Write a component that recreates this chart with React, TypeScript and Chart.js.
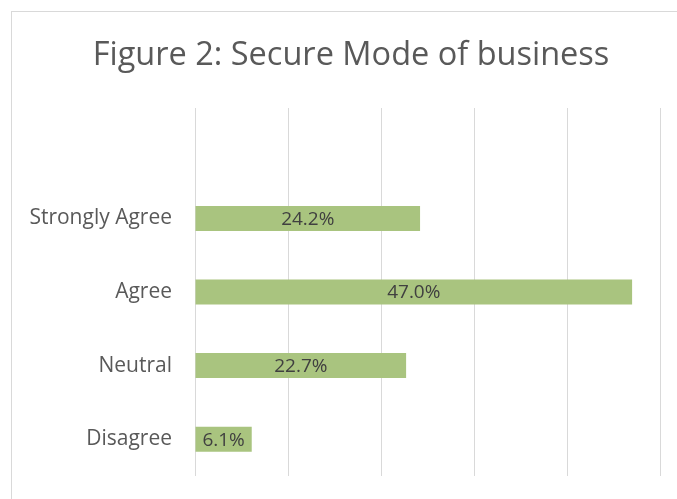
import React, { useEffect, useRef } from "react";
import { Chart, registerables } from "chart.js";

Chart.register(...registerables);

const titleText = "Figure 2: Secure Mode of business";
const categories = ["", "Strongly Agree", "Agree", "Neutral", "Disagree"];
const values: (number | null)[] = [null, 24.2, 47.0, 22.7, 6.1];
const xTicks = [0, 10, 20, 30, 40, 50];

const FONT = "'Open Sans', sans-serif";

const frame = {
  id: "frame",
  beforeDraw(chart: any) {
    const ctx = chart.ctx;
    ctx.save();
    ctx.fillStyle = "#ffffff";
    ctx.fillRect(0, 0, chart.width, chart.height);
    ctx.strokeStyle = "#d9d9d9";
    ctx.lineWidth = 1;
    ctx.strokeRect(11.5, 11.5, chart.width + 20, chart.height + 20);
    ctx.restore();
  },
};

const chartTitle = {
  id: "chartTitle",
  afterDraw(chart: any) {
    const ctx = chart.ctx;
    ctx.save();
    ctx.fillStyle = "#595959";
    ctx.font = `32.5px ${FONT}`;
    ctx.textAlign = "center";
    ctx.textBaseline = "alphabetic";
    ctx.fillText(titleText, 351, 64.5);
    ctx.restore();
  },
};

const valueLabels = {
  id: "valueLabels",
  afterDatasetsDraw(chart: any) {
    const ctx = chart.ctx;
    const meta = chart.getDatasetMeta(0);
    ctx.save();
    ctx.fillStyle = "#404040";
    ctx.font = `19px ${FONT}`;
    ctx.textAlign = "center";
    ctx.textBaseline = "middle";
    meta.data.forEach((bar: any, i: number) => {
      const v = values[i];
      if (v == null) return;
      const cx = (bar.x + bar.base) / 2;
      ctx.fillText(v.toFixed(1) + "%", cx, bar.y + 1);
    });
    ctx.restore();
  },
};

export default function App() {
  const ref = useRef<HTMLCanvasElement | null>(null);
  useEffect(() => {
    if (!ref.current) return;
    const chart = new Chart(ref.current, {
      type: "bar",
      data: {
        labels: categories,
        datasets: [
          {
            data: values as any,
            backgroundColor: "#a9c47f",
            borderWidth: 0,
            barPercentage: 0.34,
            categoryPercentage: 1,
          },
        ],
      },
      options: {
        indexAxis: "y",
        animation: false,
        responsive: false,
        layout: { padding: { left: 0, right: 17, top: 108, bottom: 23 } },
        plugins: {
          legend: { display: false },
          tooltip: { enabled: false },
          title: { display: false },
        },
        scales: {
          x: {
            min: 0,
            max: 50,
            afterBuildTicks: (axis: any) => {
              axis.ticks = xTicks.map((v) => ({ value: v }));
            },
            afterFit: (axis: any) => {
              axis.height = 0;
              axis.paddingLeft = 0;
              axis.paddingRight = 0;
              axis.paddingTop = 0;
              axis.paddingBottom = 0;
            },
            ticks: { display: false },
            grid: { color: "#d9d9d9", lineWidth: 1, drawTicks: false },
            border: { display: false },
          },
          y: {
            afterFit: (axis: any) => {
              axis.width = 195;
              axis.paddingTop = 0;
              axis.paddingBottom = 0;
              axis.paddingLeft = 0;
              axis.paddingRight = 0;
            },
            ticks: {
              color: "#595959",
              font: { family: FONT, size: 21 },
              padding: 23,
              crossAlign: "near",
            },
            grid: { display: false, drawTicks: false },
            border: { display: false },
          },
        },
      },
      plugins: [frame, chartTitle, valueLabels],
    });
    return () => chart.destroy();
  }, []);
  return (
    <div style={{ position: "fixed", left: 0, top: 0, width: 677, height: 499 }}>
      <canvas ref={ref} width={677} height={499} style={{ display: "block" }} />
    </div>
  );
}
